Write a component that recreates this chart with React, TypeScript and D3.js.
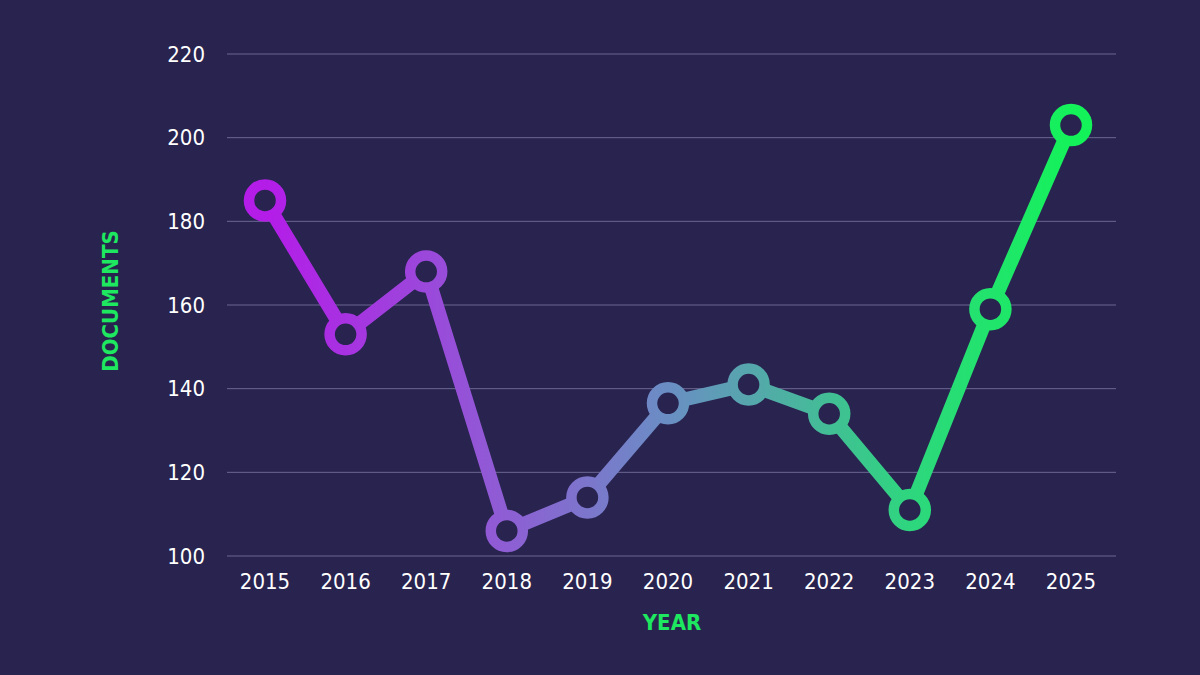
import React from "react";
import * as d3 from "d3";

const years = [2015, 2016, 2017, 2018, 2019, 2020, 2021, 2022, 2023, 2024, 2025];
const documents = [185, 153, 168, 106, 114, 136.5, 141, 134, 111, 159, 203];
const yTicks = [100, 120, 140, 160, 180, 200, 220];

const W = 1200;
const H = 675;
const BG = "#28234f";

export default function App() {
  const x = d3.scalePoint<number>().domain(years).range([265, 1071]);
  const y = d3.scaleLinear().domain([100, 220]).range([556, 54]);
  const line = d3
    .line<number>()
    .x((_, i) => x(years[i]) as number)
    .y((d) => y(d));
  const font = "'DejaVu Sans Condensed', 'Roboto', sans-serif";
  return (
    <div style={{ position: "fixed", left: 0, top: 0, width: W, height: H }}>
      <svg width={W} height={H} style={{ display: "block", background: BG }}>
        <defs>
          <linearGradient id="grad" gradientUnits="userSpaceOnUse" x1={x(2015)} x2={x(2025)} y1={0} y2={0}>
            <stop offset="0%" stopColor="#b41ce8" />
            <stop offset="30%" stopColor="#8e5ed4" />
            <stop offset="50%" stopColor="#6a8ec4" />
            <stop offset="80%" stopColor="#2ed67e" />
            <stop offset="100%" stopColor="#14f25a" />
          </linearGradient>
        </defs>
        <rect width={W} height={H} fill={BG} />
        {yTicks.map((t) => (
          <g key={t}>
            <line x1={227} x2={1116} y1={y(t)} y2={y(t)} stroke="#6b6692" strokeWidth={1} />
            <text x={205} y={y(t)} dy="0.35em" textAnchor="end" fill="#ffffff" fontSize={22} fontFamily={font}>
              {t}
            </text>
          </g>
        ))}
        {years.map((yr) => (
          <text key={yr} x={x(yr)} y={589} textAnchor="middle" fill="#ffffff" fontSize={22} fontFamily={font}>
            {yr}
          </text>
        ))}
        <path d={line(documents) || ""} fill="none" stroke="url(#grad)" strokeWidth={14} strokeLinejoin="round" />
        {documents.map((v, i) => (
          <circle
            key={i}
            cx={x(years[i])}
            cy={y(v)}
            r={16}
            fill={BG}
            stroke="url(#grad)"
            strokeWidth={10.5}
          />
        ))}
        <text x={672} y={630} textAnchor="middle" fill="#1ee85f" fontSize={22} fontWeight="bold" fontFamily={font}>
          YEAR
        </text>
        <text
          transform={`translate(118,301) rotate(-90)`}
          textAnchor="middle"
          fill="#1ee85f"
          fontSize={22}
          fontWeight="bold"
          fontFamily={font}
        >
          DOCUMENTS
        </text>
      </svg>
    </div>
  );
}
